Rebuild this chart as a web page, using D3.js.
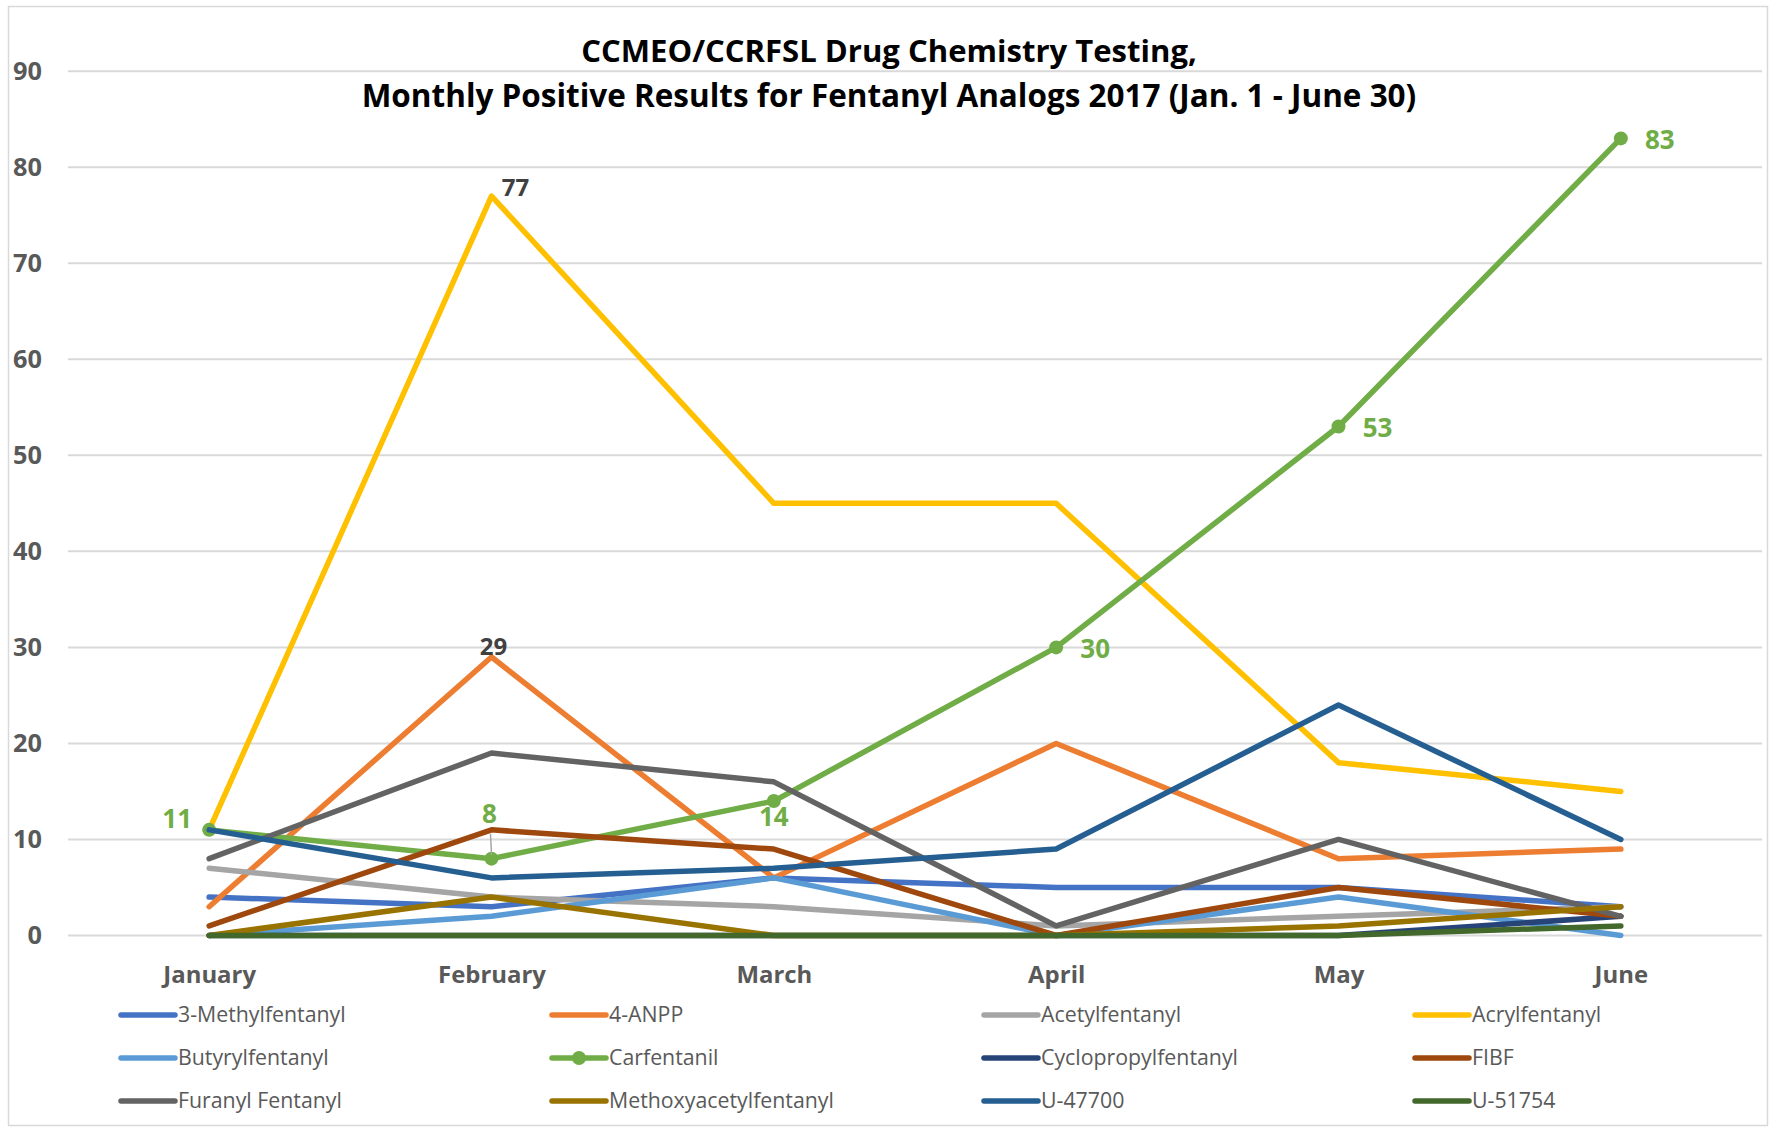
<!DOCTYPE html>
<html><head><meta charset="utf-8">
<script src="https://cdn.jsdelivr.net/npm/d3@7"></script>
<style>
html,body{margin:0;padding:0;background:#fff;}
text{font-family:"Open Sans","Noto Sans",sans-serif;}
</style></head>
<body><svg id="chart" width="1771" height="1128"></svg>
<script>
const months = ["January","February","March","April","May","June"];
const yTicks = [0,10,20,30,40,50,60,70,80,90];
const seriesNames = ["3-Methylfentanyl","4-ANPP","Acetylfentanyl","Acrylfentanyl","Butyrylfentanyl","Carfentanil","Cyclopropylfentanyl","FIBF","Furanyl Fentanyl","Methoxyacetylfentanyl","U-47700","U-51754"];
const seriesColors = ["#4472C4","#ED7D31","#A5A5A5","#FFC000","#5B9BD5","#70AD47","#264478","#9E480E","#636363","#997300","#255E91","#43682B"];
const methylfentanyl3 = [4,3,6,5,5,3];
const anpp4 = [3,29,6,20,8,9];
const acetylfentanyl = [7,4,3,1,2,3];
const acrylfentanyl = [11,77,45,45,18,15];
const butyrylfentanyl = [0,2,6,0,4,0];
const carfentanil = [11,8,14,30,53,83];
const cyclopropylfentanyl = [0,0,0,0,0,2];
const fibf = [1,11,9,0,5,2];
const furanylFentanyl = [8,19,16,1,10,2];
const methoxyacetylfentanyl = [0,4,0,0,1,3];
const u47700 = [11,6,7,9,24,10];
const u51754 = [0,0,0,0,0,1];
const seriesValues = [methylfentanyl3,anpp4,acetylfentanyl,acrylfentanyl,butyrylfentanyl,carfentanil,cyclopropylfentanyl,fibf,furanylFentanyl,methoxyacetylfentanyl,u47700,u51754];
const titleLines = ["CCMEO/CCRFSL Drug Chemistry Testing,","Monthly Positive Results for Fentanyl Analogs 2017 (Jan. 1 - June 30)"];

(function(){
const svg = d3.select("#chart");
const pLeft = 68, pRight = 1762, pTop = 71.2, pBottom = 935.5;

function fit(sel, target){
  const w = sel.node().getComputedTextLength();
  const fs = parseFloat(sel.attr("font-size"));
  sel.attr("font-size", fs*target/w);
  return fs*target/w;
}

svg.append("rect").attr("x",8.5).attr("y",6.5).attr("width",1759).attr("height",1119)
  .attr("fill","#fff").attr("stroke","#d9d9d9").attr("stroke-width",1.5);

const x = d3.scalePoint().domain(months).range([pLeft,pRight]).padding(0.5);
const y = d3.scaleLinear().domain([0,90]).range([pBottom,pTop]);

svg.append("g").selectAll("line").data(yTicks).join("line")
  .attr("x1",pLeft).attr("x2",pRight)
  .attr("y1",d=>y(d)).attr("y2",d=>y(d))
  .attr("stroke","#d9d9d9").attr("stroke-width",2);

const yAxis = svg.append("g").attr("transform",`translate(42,0)`)
  .call(d3.axisLeft(y).tickValues(yTicks).tickSize(0).tickPadding(0));
yAxis.select(".domain").remove();
yAxis.selectAll("text").attr("font-size",22).attr("font-weight","bold").attr("fill","#595959")
  .attr("font-family","'Open Sans',sans-serif");
let ytfs = 22;
yAxis.selectAll("text").filter(d=>d===90).each(function(){ ytfs = fit(d3.select(this),29); });
yAxis.selectAll("text").attr("font-size",ytfs);

const xAxis = svg.append("g").attr("transform",`translate(0,${pBottom})`)
  .call(d3.axisBottom(x).tickSize(0).tickPadding(0));
xAxis.select(".domain").remove();
xAxis.selectAll("text").attr("font-size",22).attr("font-weight","bold").attr("fill","#595959")
  .attr("font-family","'Open Sans',sans-serif").attr("dy",null).attr("y",47);
let xtfs = 22;
xAxis.selectAll("text").filter(d=>d==="February").each(function(){ xtfs = fit(d3.select(this),108); });
xAxis.selectAll("text").attr("font-size",xtfs);

const t1 = svg.append("text").attr("x",889).attr("y",62).attr("text-anchor","middle")
  .attr("font-size",30).attr("font-weight","bold").attr("fill","#000").text(titleLines[0]);
fit(t1,616);
const t2 = svg.append("text").attr("x",889).attr("y",107).attr("text-anchor","middle")
  .attr("font-size",30).attr("font-weight","bold").attr("fill","#000").text(titleLines[1]);
fit(t2,1055);

const line = d3.line().x((d,i)=>x(months[i])).y(d=>y(d));
const gLines = svg.append("g");
seriesValues.forEach((vals,si)=>{
  gLines.append("path").datum(vals).attr("d",line).attr("fill","none")
    .attr("stroke",seriesColors[si]).attr("stroke-width",5.5)
    .attr("stroke-linecap","round").attr("stroke-linejoin","round");
  if(seriesNames[si]==="Carfentanil"){
    gLines.append("g").selectAll("circle").data(vals).join("circle")
      .attr("cx",(d,i)=>x(months[i])).attr("cy",d=>y(d)).attr("r",7)
      .attr("fill",seriesColors[si]);
  }
});

const carfLabelOffsets = [[-32,-11],[-2,-45],[0,16],[39,1],[39,1],[39,1]];
svg.append("line").attr("x1",x("February")).attr("x2",x("February")-1)
  .attr("y1",y(carfentanil[1])-4).attr("y2",y(carfentanil[1])-25)
  .attr("stroke","#a6a6a6").attr("stroke-width",1.5);
carfentanil.forEach((v,i)=>{
  svg.append("text").attr("x",x(months[i])+carfLabelOffsets[i][0])
    .attr("y",y(v)+carfLabelOffsets[i][1]).attr("dy","0.35em")
    .attr("text-anchor","middle").attr("font-size",26).attr("font-weight","bold")
    .attr("fill","#70AD47").text(v);
});
svg.append("text").attr("x",x("February")+24).attr("y",y(acrylfentanyl[1])-8).attr("dy","0.35em")
  .attr("text-anchor","middle").attr("font-size",24).attr("font-weight","bold").attr("fill","#404040")
  .text(acrylfentanyl[1]);
svg.append("text").attr("x",x("February")+2).attr("y",y(anpp4[1])-10).attr("dy","0.35em")
  .attr("text-anchor","middle").attr("font-size",24).attr("font-weight","bold").attr("fill","#404040")
  .text(anpp4[1]);

const legCols = [121,552,984,1415];
const legRows = [1015,1058,1101];
const leg = svg.append("g");
let lfs = 20;
seriesNames.forEach((name,i)=>{
  const cx = legCols[i%4], cy = legRows[Math.floor(i/4)];
  const g = leg.append("g");
  g.append("line").attr("x1",cx).attr("x2",cx+54).attr("y1",cy).attr("y2",cy)
    .attr("stroke",seriesColors[i]).attr("stroke-width",5.5).attr("stroke-linecap","round");
  if(name==="Carfentanil"){
    g.append("circle").attr("cx",cx+27).attr("cy",cy).attr("r",7).attr("fill",seriesColors[i]);
  }
  g.append("text").attr("class","legtext").attr("x",cx+57).attr("y",cy).attr("dy","0.35em")
    .attr("font-size",20).attr("fill","#595959").text(name);
});
leg.selectAll(".legtext").filter(function(){return d3.select(this).text()==="Methoxyacetylfentanyl";})
  .each(function(){ lfs = fit(d3.select(this),225); });
leg.selectAll(".legtext").attr("font-size",lfs);
})();
</script></body></html>
